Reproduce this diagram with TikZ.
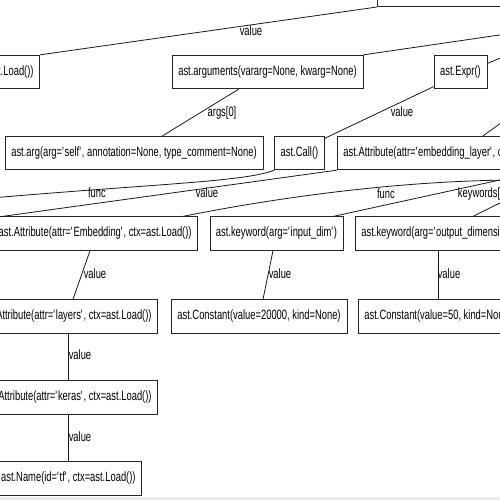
\documentclass[tikz,border=0pt]{standalone}
\usepackage{fontspec}
\setmainfont{Liberation Sans}[FakeStretch=0.695]
\usetikzlibrary{calc}
\newcommand{\myq}{\textquotesingle}
\begin{document}
\begin{tikzpicture}[x=1pt,y=-1pt,
  font=\fontsize{13.5}{15}\selectfont,
  box/.style={draw=black!85, line width=0.8pt, minimum height=33.5pt, inner xsep=6pt, inner ysep=0pt, fill=white},
  edge/.style={draw=black!90, line width=0.8pt},
  elabel/.style={inner sep=0pt}]
\useasboundingbox (0,0) rectangle (500,500);
\fill[white] (0,0) rectangle (500,500);
\clip (0,0) rectangle (500,500);
\fill[gray!15] (0,497) rectangle (500,500);

% nodes
\node[box, anchor=south west, minimum width=200pt] (top) at (377,7) {};
\node[box, anchor=east] (nself) at (40,72) {ast.Name(id=\myq self\myq, ctx=ast.Load())};
\node[box, minimum width=191pt] (args) at (267.5,72) {ast.arguments(vararg=None, kwarg=None)};
\node[box, minimum width=53pt] (expr) at (460.5,72) {ast.Expr()};
\node[box, minimum width=258pt] (arg) at (134,153) {ast.arg(arg=\myq self\myq, annotation=None, type\_comment=None)};
\node[box, minimum width=49pt] (call) at (299.5,153) {ast.Call()};
\node[box, anchor=west] (embl) at (337,153) {ast.Attribute(attr=\myq embedding\_layer\myq, ctx=ast.Store())};
\node[box, anchor=east] (emb) at (198,233.5) {ast.Attribute(attr=\myq Embedding\myq, ctx=ast.Load())};
\node[box, minimum width=133pt] (ind) at (276.5,233.5) {ast.keyword(arg=\myq input\_dim\myq)};
\node[box, anchor=west] (outd) at (355,233.5) {ast.keyword(arg=\myq output\_dimension\myq)};
\node[box, anchor=east] (layers) at (158,316.5) {ast.Attribute(attr=\myq layers\myq, ctx=ast.Load())};
\node[box, minimum width=176pt] (c20k) at (259,316.5) {ast.Constant(value=20000, kind=None)};
\node[box, anchor=west] (c50) at (358,316.5) {ast.Constant(value=50, kind=None)};
\node[box, anchor=east] (keras) at (158,397.5) {ast.Attribute(attr=\myq keras\myq, ctx=ast.Load())};
\node[box, anchor=east] (tf) at (142,478.5) {ast.Name(id=\myq tf\myq, ctx=ast.Load())};

% free ends beyond the frame
\coordinate (r1) at (520,32);
\coordinate (r2) at (520,50);
\coordinate (r3) at (515,113);
\coordinate (r4) at (520,180);
\coordinate (r5) at (520,175.6);
\coordinate (r6) at (520,193);
\coordinate (lf1) at (-20,199);
\coordinate (lf2) at (-20,219.5);

% edges
\draw[edge] (top.south west) -- (nself.north east);
\node[elabel] (l1) at (251,31) {value};
\draw[edge] (args.north east) -- (r1);
\draw[edge] ($(expr.north east)!0.5!(expr.east)$) -- (r2);
\draw[edge] ($(args.south west)!0.35!(args.south east)$) -- ($(arg.north west)!0.61!(arg.north east)$);
\node[elabel] (l2) at (222,113) {args[0]};
\draw[edge] ([yshift=2.5pt]expr.south west) -- ([yshift=-2.5pt]call.north east);
\node[elabel] (l3) at (402,112) {value};
\draw[edge] ([xshift=146pt]embl.north west) -- (r3);

\draw[edge] (call.south west) .. controls (245,182) and (150,184) .. (lf1);
\node[elabel] (l4) at (97,193) {func};
\draw[edge] (embl.south west) -- (lf2);
\node[elabel] (l5) at (207,193) {value};
\draw[edge] (r4) .. controls (420,180) and (300,193) .. ([xshift=-15pt]emb.north east);
\node[elabel] (l6) at (386,194) {func};
\draw[edge] (r5) -- ([xshift=-10pt]ind.north east);
\node[elabel] (l7) at (483,194) {keywords[0]};
\draw[edge] (r6) -- ([xshift=118pt]outd.north west);

\draw[edge] ([xshift=-108pt]emb.south east) -- ([xshift=-85pt]layers.north east);
\node[elabel] (l8) at (95,274) {value};
\draw[edge] ([xshift=-3.5pt]ind.south) -- ([xshift=4pt]c20k.north);
\node[elabel] (l9) at (280,274) {value};
\draw[edge] ([xshift=83pt]outd.south west) -- ([xshift=80pt]c50.north west);
\node[elabel] (l10) at (449,274) {value};
\draw[edge] ([xshift=-90pt]layers.south east) -- ([xshift=-90pt]keras.north east);
\node[elabel] (l11) at (80,355) {value};
\draw[edge] ([xshift=-90pt]keras.south east) -- ([xshift=-74pt]tf.north east);
\node[elabel] (l12) at (80,437) {value};
\end{tikzpicture}
\end{document}
